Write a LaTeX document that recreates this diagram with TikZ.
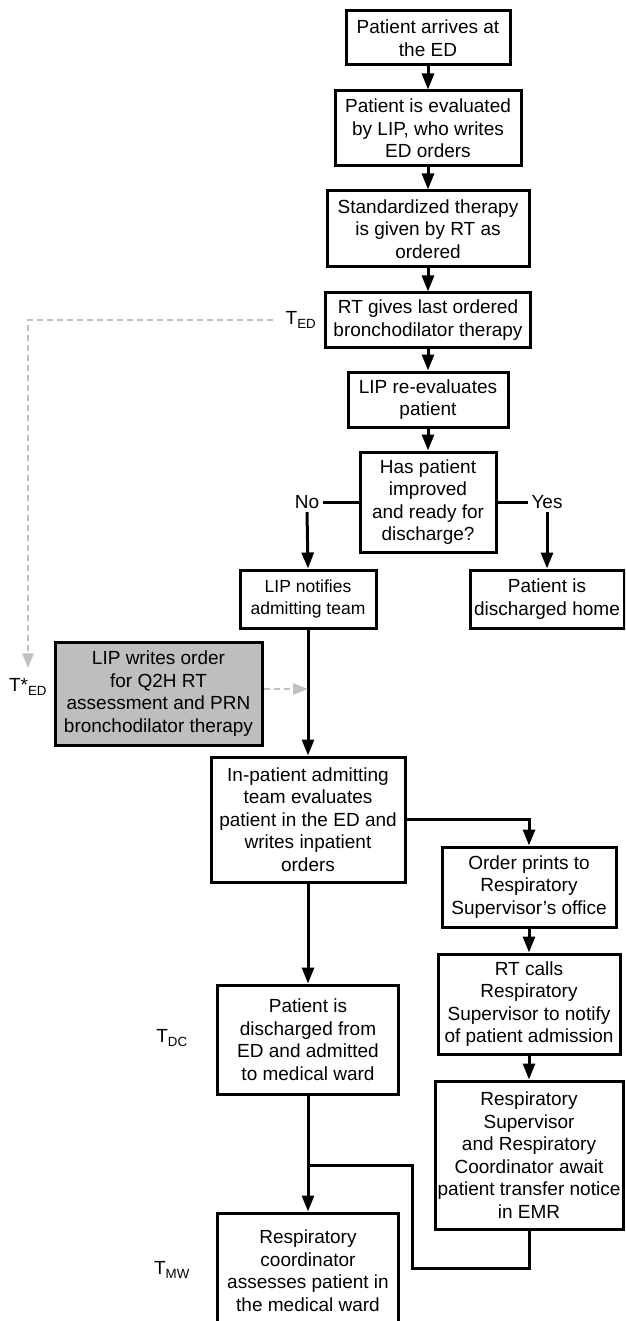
\documentclass[tikz,border=0pt]{standalone}
\usepackage{fontspec}
\setmainfont{Liberation Sans}
\usetikzlibrary{arrows.meta}
\definecolor{order-gray}{RGB}{190,190,190}
\definecolor{dash-gray}{RGB}{192,192,192}

\begin{document}
\begin{tikzpicture}[x=1pt,y=-1pt,
  font=\fontsize{19}{22.5}\selectfont,
  procbox/.style={draw=black, line width=3pt, align=center, inner sep=2pt, minimum width=#1},
  link/.style={line width=3pt},
  flow/.style={line width=3pt, -{Triangle[length=16pt,width=12pt]}},
  lateflow/.style={draw=dash-gray, line width=2.6pt, dash pattern=on 6pt off 4pt, -{Triangle[length=15pt,width=11pt]}}]
\useasboundingbox (0,0) rectangle (625,1321);
\clip (0,0) rectangle (625,1321);

\node[procbox=164, minimum height=54] (arrive) at (428,38) {Patient arrives at\\the ED};
\node[procbox=186, minimum height=75] (evaluate) at (428,128.5) {Patient is evaluated\\by LIP, who writes\\ED orders};
\node[procbox=202, minimum height=76] (therapy) at (428,229) {Standardized therapy\\is given by RT as\\ordered};
\node[procbox=205, minimum height=54] (lastrt) at (428,320) {RT gives last ordered\\bronchodilator therapy};
\node[procbox=160, minimum height=55] (reeval) at (428,399.5) {LIP re-evaluates\\patient};
\node[procbox=136, minimum height=100] (improved) at (428,502) {Has patient\\improved\\and ready for\\discharge?};
\node (no) at (307,502) {No};
\node (yes) at (547,502) {Yes};
\node[procbox=136, minimum height=58, font=\fontsize{17.5}{22.5}\selectfont] (notify) at (308,599) {LIP notifies\\admitting team};
\node[procbox=154, minimum height=58] (home) at (547,599) {Patient is\\discharged home};
\node[procbox=207, minimum height=103, fill=order-gray] (q2h) at (158.5,693.5) {LIP writes order\\for Q2H RT\\assessment and PRN\\bronchodilator therapy};
\node[procbox=194, minimum height=125] (inpatient) at (308,819.5) {In-patient admitting\\team evaluates\\patient in the ED and\\writes inpatient\\orders};
\node[procbox=174, minimum height=80] (prints) at (529,887) {Order prints to\\Respiratory\\Supervisor’s office};
\node[procbox=182, minimum height=100] (calls) at (529,1004) {RT calls\\Respiratory\\Supervisor to notify\\of patient admission};
\node[procbox=188, minimum height=148] (await) at (529,1155) {Respiratory\\Supervisor\\and Respiratory\\Coordinator await\\patient transfer notice\\in EMR};
\node[procbox=181, minimum height=109] (ward) at (308,1039.5) {Patient is\\discharged from\\ED and admitted\\to medical ward};
\node[procbox=181, minimum height=115] (assess) at (308,1270.5) {Respiratory\\coordinator\\assesses patient in\\the medical ward};

\node (ted) at (301,320) {T\textsubscript{ED}};
\node (tstar) at (28,687) {T*\textsubscript{ED}};
\node (tdc) at (172,1038) {T\textsubscript{DC}};
\node (tmw) at (172,1270) {T\textsubscript{MW}};
\coordinate (merge) at (308,1165);

\draw[flow] (arrive) -- (evaluate);
\draw[flow] (evaluate) -- (therapy);
\draw[flow] (therapy) -- (lastrt);
\draw[flow] (lastrt) -- (reeval);
\draw[flow] (reeval) -- (improved);
\draw[link] (improved.west) -- (no.east);
\draw[link] (improved.east) -- (yes.west);
\draw[flow] (no.south) -- (notify.north);
\draw[flow] (yes.south) -- (home.north);
\draw[flow] (notify) -- (inpatient);
\draw[lateflow, shorten <=9pt, shorten >=7pt] (ted.west) -| (tstar.north);
\draw[lateflow] ([yshift=4.5pt]q2h.east) -- ([yshift=4.5pt]q2h.east -| notify.south);
\draw[flow] (inpatient.east) -| (prints.north);
\draw[flow] (prints) -- (calls);
\draw[flow] (calls) -- (await);
\draw[flow] (inpatient) -- (ward);
\draw[flow] (ward) -- (assess);
\draw[link] (await.south) |- (412,1268) |- (merge);
\end{tikzpicture}
\end{document}
